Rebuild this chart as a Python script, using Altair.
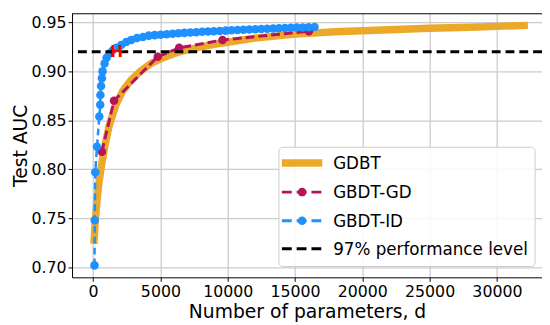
import altair as alt
import pandas as pd

# ---- data ----
gbdt_d = [60, 150, 300, 450, 600, 900, 1200, 1700, 2200, 2800, 3500, 4300, 5200,
          6400, 8000, 9600, 12000, 15000, 18000, 20000, 25000, 28000, 30000, 32300]
gbdt_auc = [0.724, 0.745, 0.770, 0.788, 0.802, 0.826, 0.845, 0.866, 0.880, 0.891,
            0.900, 0.908, 0.914, 0.920, 0.925, 0.929, 0.934, 0.938, 0.9405, 0.9415,
            0.944, 0.945, 0.946, 0.947]

gd_d = [650, 1550, 4800, 6390, 9610, 16030]
gd_auc = [0.818, 0.870, 0.915, 0.924, 0.932, 0.941]

id_d = [100, 120, 160, 285, 460, 530, 540, 590, 650, 700, 850, 1000, 1200, 1430,
        1730, 2090, 2460, 2830, 3260, 3700, 4140, 4580, 5020, 5460, 5900, 6340,
        6780, 7220, 7660, 8100, 8530, 8970, 9410, 9850, 10290, 10730, 11170,
        11610, 12050, 12490, 12930, 13370, 13810, 14250, 14690, 15130, 15570,
        16010, 16450]
id_auc = [0.702, 0.748, 0.797, 0.823, 0.854, 0.866, 0.876, 0.885, 0.893, 0.900,
          0.908, 0.914, 0.918, 0.921, 0.924, 0.927, 0.930, 0.932, 0.934, 0.935,
          0.9365, 0.937, 0.9375, 0.938, 0.9385, 0.939, 0.9393, 0.9397, 0.940,
          0.9404, 0.9407, 0.941, 0.9413, 0.9416, 0.942, 0.9422, 0.9425, 0.9428,
          0.943, 0.9433, 0.9436, 0.9438, 0.944, 0.9443, 0.9445, 0.9447, 0.9449,
          0.945, 0.9452]

perf_level = [0.92]
h_d = [1750]
h_auc = [0.92]

legend_labels = ["GDBT", "GBDT-GD", "GBDT-ID", "97% performance level"]
x_ticks = [0, 5000, 10000, 15000, 20000, 25000, 30000]
y_ticks = [0.70, 0.75, 0.80, 0.85, 0.90, 0.95]

ORANGE = "#ECA828"
CRIMSON = "#B5145C"
BLUE = "#1E90FF"
FONT = "DejaVu Sans"

W, H = 477, 268
xscale = alt.Scale(domain=[-1567, 33350], nice=False, zero=False)
yscale = alt.Scale(domain=[0.6898, 0.9593], nice=False, zero=False)
xaxis = alt.Axis(values=x_ticks, title="Number of parameters, d", format="d")
yaxis = alt.Axis(values=y_ticks, title="Test AUC", format=".2f")


def X():
    return alt.X("d:Q", scale=xscale, axis=xaxis)


def Y():
    return alt.Y("auc:Q", scale=yscale, axis=yaxis)


gbdt_df = pd.DataFrame({"d": gbdt_d, "auc": gbdt_auc})
gd_df = pd.DataFrame({"d": gd_d, "auc": gd_auc})
id_df = pd.DataFrame({"d": id_d, "auc": id_auc})
perf_df = pd.DataFrame({"auc": perf_level})
h_df = pd.DataFrame({"d": h_d, "auc": h_auc})

gbdt = alt.Chart(gbdt_df).mark_line(color=ORANGE, strokeWidth=7.5).encode(x=X(), y=Y())
gd_line = alt.Chart(gd_df).mark_line(color=CRIMSON, strokeWidth=3, strokeDash=[9, 4]).encode(x=X(), y=Y())
gd_pts = alt.Chart(gd_df).mark_circle(color=CRIMSON, size=75, opacity=1).encode(x=X(), y=Y())
id_line = alt.Chart(id_df).mark_line(color=BLUE, strokeWidth=2.5, strokeDash=[7, 4]).encode(x=X(), y=Y())
id_pts = alt.Chart(id_df).mark_circle(color=BLUE, size=75, opacity=1).encode(x=X(), y=Y())
perf = alt.Chart(perf_df).mark_rule(color="black", strokeWidth=3, strokeDash=[9, 5]).encode(y=Y())
hmark = alt.Chart(h_df).mark_text(text="H", color="#FF0000", fontWeight="bold",
                                  fontSize=16, font=FONT).encode(x=X(), y=Y())

# top spine
one = pd.DataFrame({"k": [0]})
top_spine = alt.Chart(one).mark_rule(color="black", strokeWidth=1).encode(
    x=alt.value(0), x2=alt.value(W), y=alt.value(0.5))

# legend (drawn by hand)
lx0, lx1, ly0, ly1 = 210, 470, 136, 257
sym0, sym1, symc, labx = 213, 254, 233.5, 265
rows = [152, 181.5, 210.5, 239]

legend_layers = [
    alt.Chart(one).mark_rect(fill="white", fillOpacity=0.85, stroke="#cccccc",
                             strokeWidth=1, cornerRadius=4).encode(
        x=alt.value(lx0), x2=alt.value(lx1), y=alt.value(ly0), y2=alt.value(ly1)),
    alt.Chart(one).mark_rule(color=ORANGE, strokeWidth=7.5).encode(
        x=alt.value(sym0), x2=alt.value(sym1), y=alt.value(rows[0])),
    alt.Chart(one).mark_rule(color=CRIMSON, strokeWidth=3, strokeDash=[10, 5]).encode(
        x=alt.value(sym0), x2=alt.value(sym1), y=alt.value(rows[1])),
    alt.Chart(one).mark_circle(color=CRIMSON, size=75, opacity=1).encode(
        x=alt.value(symc), y=alt.value(rows[1])),
    alt.Chart(one).mark_rule(color=BLUE, strokeWidth=3, strokeDash=[10, 5]).encode(
        x=alt.value(sym0), x2=alt.value(sym1), y=alt.value(rows[2])),
    alt.Chart(one).mark_circle(color=BLUE, size=75, opacity=1).encode(
        x=alt.value(symc), y=alt.value(rows[2])),
    alt.Chart(one).mark_rule(color="black", strokeWidth=3, strokeDash=[10, 5]).encode(
        x=alt.value(sym0), x2=alt.value(sym1), y=alt.value(rows[3])),
]
for i, lab in enumerate(legend_labels):
    legend_layers.append(
        alt.Chart(pd.DataFrame({"label": [lab]})).mark_text(
            align="left", baseline="middle", fontSize=17, font=FONT, color="black").encode(
            text="label:N", x=alt.value(labx), y=alt.value(rows[i] + 1)))

chart = alt.layer(
    gbdt, gd_line, gd_pts, id_line, id_pts, perf, hmark, top_spine, *legend_layers
).properties(
    width=W, height=H,
    padding={"left": 65, "top": 3, "right": 0, "bottom": 45},
    autosize=alt.AutoSizeParams(type="none"),
).configure_view(stroke="transparent").configure_axis(
    labelFont=FONT, titleFont=FONT, labelFontSize=16, titleFontSize=19,
    titleFontWeight="normal", labelColor="black", titleColor="black",
    domainColor="black", domainWidth=1, tickColor="black", tickSize=4,
    labelPadding=2, gridColor="#cccccc", gridWidth=1.3, grid=True,
).configure_axisX(titlePadding=4).configure_axisY(titlePadding=1)

chart.save("out.html", embed_options={"renderer": "svg", "actions": False})
